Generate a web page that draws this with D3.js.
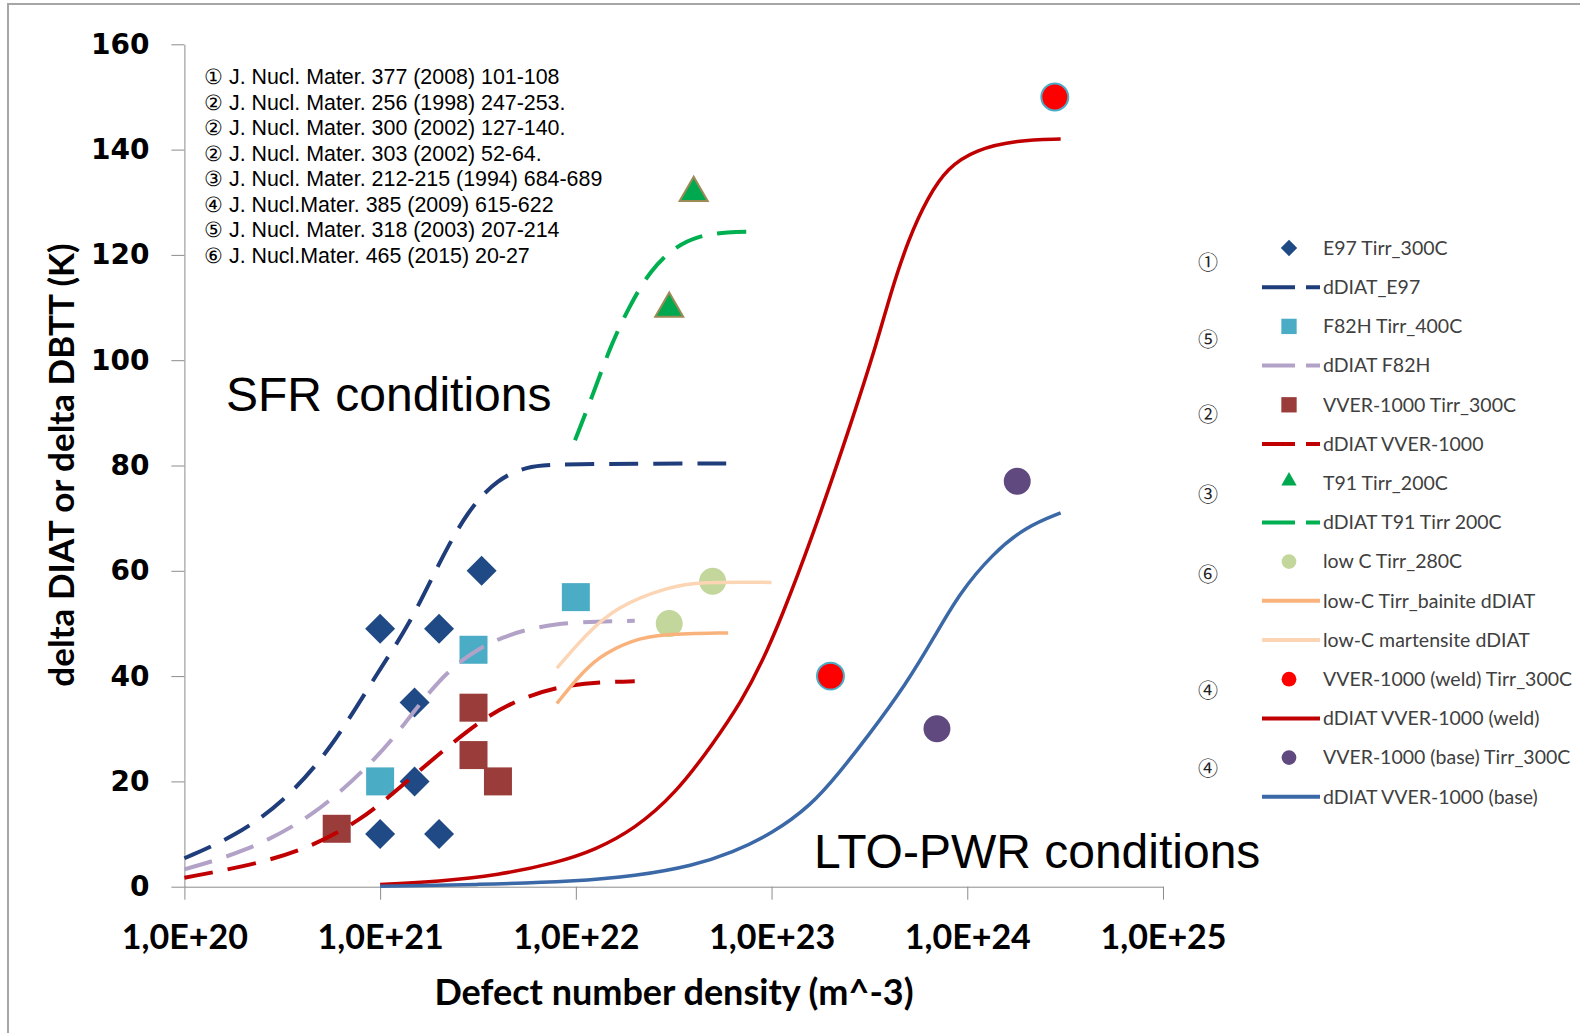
<!DOCTYPE html>
<html>
<head>
<meta charset="utf-8">
<title>dDIAT vs defect number density</title>
<script src="https://d3js.org/d3.v7.min.js"></script>
<style>
  body { margin: 0; background: #fff; }
  svg { display: block; }
</style>
</head>
<body>
<script>
// ---- data: x = defect number density (m^-3), y = delta DIAT / DBTT (K) ----
var e97Pts    = [[1e21,49],[1e21,10],[1.5e21,35],[1.5e21,20],[2e21,49],[2e21,10],[3.3e21,60]];
var e97Fit    = [[1e20,5.4],[1.8e20,9.5],[3.2e20,16],[5.6e20,26],[1e21,41.5],[1.4e21,49.5],[2e21,61.5],
                 [2.8e21,71.5],[4e21,77.5],[5.6e21,79.8],[7.9e21,80.3],[6.2e22,80.4]];
var f82hPts   = [[1e21,20],[3e21,45],[1e22,55]];
var f82hFit   = [[1e20,3.3],[2e20,6.5],[4.6e20,13.2],[1e21,25],[1.4e21,32],[2e21,39.3],[2.8e21,44],
                 [4.1e21,47.4],[7.4e21,50.2],[2e22,50.5]];
var vverPts   = [[6e20,11],[3e21,34],[3e21,25],[4e21,20]];
var vverFit   = [[1e20,1.7],[2e20,3.8],[3.9e20,6.6],[7.9e20,12.3],[1.4e21,20.3],[2.8e21,29.8],
                 [4.5e21,34.9],[8.9e21,38.7],[2e22,39]];
var t91Pts    = [[3e22,109],[4e22,131]];
var t91Fit    = [[9.9e21,84.8],[1.23e22,93.7],[1.5e22,102.6],[1.86e22,110],[2.4e22,117.1],
                 [3.2e22,121.5],[4.2e22,123.6],[5.9e22,124.4],[8.7e22,124.4]];
var lowCPts   = [[3e22,50],[5e22,58]];
var bainiteFit    = [[8e21,34.8],[1e22,39.3],[1.3e22,43.7],[1.95e22,46.9],[2.75e22,48],[6e22,48.2]];
var martensiteFit = [[8e21,41.5],[1.1e22,47.5],[1.6e22,53.2],[3e22,57],[4.3e22,57.9],[1e23,57.8]];
var weldPts   = [[2e23,40],[2.8e24,150]];
var weldFit   = [[1e21,0.4],[2e21,1],[4e21,2.2],[7.9e21,4.5],[1.26e22,7],[2e22,11],[3.2e22,17.5],
                 [5e22,27],[7.1e22,35.5],[8.9e22,42.5],[1.12e23,51],[1.6e23,66],[2.5e23,87],[3.5e23,104],
                 [4e23,112],[5e23,123],[6.3e23,131],[7.9e23,136.5],[1.1e24,140],[1.8e24,141.8],[3e24,142]];
var basePts   = [[7e23,30],[1.8e24,77]];
var baseFit   = [[1e21,0.1],[3.2e21,0.4],[1e22,1],[2e22,2],[4e22,4],[6.3e22,6.5],[1e23,10],
                 [1.6e23,15.5],[2.2e23,21.5],[3.1e23,28.5],[4.9e23,38.6],[6.8e23,47.5],[9.1e23,55.7],
                 [1.35e24,63.3],[2e24,68.4],[3e24,71]];

var xTicks = [1e20,1e21,1e22,1e23,1e24,1e25];
var yTicks = [0,20,40,60,80,100,120,140,160];

var refLines = [
  "\u2460 J. Nucl. Mater. 377 (2008) 101-108",
  "\u2461 J. Nucl. Mater. 256 (1998) 247-253.",
  "\u2461 J. Nucl. Mater. 300 (2002) 127-140.",
  "\u2461 J. Nucl. Mater. 303 (2002) 52-64.",
  "\u2462 J. Nucl. Mater. 212-215 (1994) 684-689",
  "\u2463 J. Nucl.Mater. 385 (2009) 615-622",
  "\u2464 J. Nucl. Mater. 318 (2003) 207-214",
  "\u2465 J. Nucl.Mater. 465 (2015) 20-27"
];
// reference marks beside the legend, keyed to the legend row they sit next to
var legendNotes = [[0.38,"\u2460"],[2.34,"\u2464"],[4.27,"\u2461"],[6.3,"\u2462"],
                   [8.33,"\u2465"],[11.3,"\u2463"],[13.3,"\u2463"]];

// ---- series (drawn in this order, legend in this order) ----
var series = [
  {name:"E97 Tirr_300C", pts:e97Pts, marker:"diamond", fill:"#1F4A86"},
  {name:"dDIAT_E97", line:e97Fit, stroke:"#1F3D7A", dash:true},
  {name:"F82H Tirr_400C", pts:f82hPts, marker:"square", fill:"#4BACC6"},
  {name:"dDIAT F82H", line:f82hFit, stroke:"#B3A2C7", dash:true},
  {name:"VVER-1000 Tirr_300C", pts:vverPts, marker:"square", fill:"#993C3A"},
  {name:"dDIAT VVER-1000", line:vverFit, stroke:"#C00000", dash:true},
  {name:"T91 Tirr_200C", pts:t91Pts, marker:"triangle", fill:"#00A94F", edge:"#9C8B56"},
  {name:"dDIAT T91 Tirr 200C", line:t91Fit, stroke:"#00B050", dash:true},
  {name:"low C Tirr_280C", pts:lowCPts, marker:"circle", fill:"#C3D69B"},
  {name:"low-C Tirr_bainite dDIAT", line:bainiteFit, stroke:"#F9B27C"},
  {name:"low-C martensite dDIAT", line:martensiteFit, stroke:"#FCD5B5"},
  {name:"VVER-1000 (weld) Tirr_300C", pts:weldPts, marker:"circle", fill:"#FF0000", edge:"#4BACC6"},
  {name:"dDIAT VVER-1000 (weld)", line:weldFit, stroke:"#C00000"},
  {name:"VVER-1000 (base) Tirr_300C", pts:basePts, marker:"circle", fill:"#60497F"},
  {name:"dDIAT VVER-1000 (base)", line:baseFit, stroke:"#3B68A6"}
];

var W = 1580, H = 1033;
var svg = d3.select("body").append("svg").attr("width", W).attr("height", H);

// outer frame
svg.append("rect").attr("x", 8).attr("y", 4).attr("width", W + 20).attr("height", H + 20)
  .attr("fill", "none").attr("stroke", "#a6a6a6").attr("stroke-width", 2);

var x = d3.scaleLog().domain([1e20, 1e25]).range([184.4, 1163]);
var y = d3.scaleLinear().domain([0, 160]).range([886.7, 44.3]);

// axes
var yAxis = svg.append("g").attr("transform", "translate(" + x.range()[0] + ",0)")
  .call(d3.axisLeft(y).tickValues(yTicks).tickSize(13).tickSizeOuter(0).tickPadding(22));
yAxis.selectAll("text").style("font-family", "'DejaVu Sans'").style("font-weight", "bold")
  .style("font-size", "28px").attr("fill", "#000");

var xAxis = svg.append("g").attr("transform", "translate(0," + y(0) + ")")
  .call(d3.axisBottom(x).tickValues(xTicks).tickSize(13).tickSizeOuter(0)
    .tickFormat(function(d){ return "1,0E+" + Math.round(Math.log10(d)); }));
xAxis.selectAll("text").attr("y", 50).attr("dy", "0.35em")
  .style("font-family", "Lato").style("font-weight", "bold").style("font-size", "34px").attr("fill", "#000");

svg.selectAll(".domain, .tick line").attr("stroke", "#8c8c8c");

svg.append("text").attr("x", 674).attr("y", 992).attr("dy", "0.35em")
  .attr("text-anchor", "middle").style("font-family", "Lato").style("font-weight", "bold")
  .style("font-size", "36px").text("Defect number density (m^-3)");

svg.append("text").attr("transform", "translate(62,465) rotate(-90)").attr("dy", "0.35em")
  .attr("text-anchor", "middle").style("font-family", "Lato").style("font-weight", "bold")
  .style("font-size", "35px").text("delta DIAT or delta DBTT (K)");

// marker shapes
var markerSize = {diamond: 450, square: 784, triangle: 340, circle: 570};
function symbolFor(kind, scale) {
  var t = kind == "circle" ? d3.symbolCircle : kind == "triangle" ? d3.symbolTriangle : d3.symbolSquare;
  return d3.symbol().type(t).size(markerSize[kind] * (scale || 1))();
}
function placeMarker(g, s, px, py, scale, noEdge) {
  var rot = s.marker == "diamond" ? " rotate(45)" : "";
  var dy = 0;
  // centre the triangle's box (not its centroid) on the point
  if (s.marker == "triangle") dy = -Math.sqrt(markerSize.triangle * (scale || 1) * 4 / Math.sqrt(3)) * Math.sqrt(3) / 12;
  var edge = noEdge ? null : s.edge;
  g.append("path").attr("d", symbolFor(s.marker, scale))
    .attr("transform", "translate(" + px + "," + (py + dy) + ")" + rot)
    .attr("fill", s.fill)
    .attr("stroke", edge || "none").attr("stroke-width", edge ? 2 : 0);
}

var line = d3.line().x(function(d){ return x(d[0]); }).y(function(d){ return y(d[1]); })
  .curve(d3.curveBasis);

var plot = svg.append("g");
series.forEach(function(s) {
  if (s.line) {
    plot.append("path").attr("d", line(s.line)).attr("fill", "none")
      .attr("stroke", s.stroke).attr("stroke-width", s.dash ? 4 : 3.5)
      .attr("stroke-dasharray", s.dash ? "29,15" : null);
  } else {
    s.pts.forEach(function(p) { placeMarker(plot, s, x(p[0]), y(p[1])); });
  }
});

// reference list
var refs = svg.append("g").style("font-family", "'Liberation Sans', Arial, sans-serif")
  .style("font-size", "21.4px");
refs.selectAll("text").data(refLines).enter().append("text")
  .attr("x", 204).attr("y", function(d, i){ return 77 + i * 25.45; }).attr("dy", "0.35em")
  .text(function(d){ return d; });

// region labels
svg.append("text").attr("x", 226).attr("y", 411).style("font-family", "'Liberation Sans', Arial")
  .style("font-size", "48px").text("SFR conditions");
svg.append("text").attr("x", 814).attr("y", 868).style("font-family", "'Liberation Sans', Arial")
  .style("font-size", "48px").text("LTO-PWR conditions");

// legend
var legY0 = 248, legStep = 39.2;
var legend = svg.append("g").style("font-family", "Lato").style("font-size", "19.5px");
series.forEach(function(s, i) {
  var ly = legY0 + i * legStep;
  if (s.line) {
    legend.append("line").attr("x1", 1262).attr("x2", 1320).attr("y1", ly).attr("y2", ly)
      .attr("stroke", s.stroke).attr("stroke-width", 4)
      .attr("stroke-dasharray", s.dash ? "33,11" : null);
  } else {
    placeMarker(legend, s, 1289, ly, 0.3, true);
  }
  legend.append("text").attr("x", 1323).attr("y", ly).attr("dy", "0.35em")
    .attr("fill", "#404040").text(s.name);
});
legend.selectAll(".note").data(legendNotes).enter().append("text").attr("class", "note")
  .attr("x", 1208).attr("y", function(d){ return legY0 + d[0] * legStep; }).attr("dy", "0.35em")
  .attr("text-anchor", "middle").style("font-family", "'Noto Sans CJK JP'").style("font-size", "20px")
  .attr("fill", "#222")
  .text(function(d){ return d[1]; });
</script>
</body>
</html>
